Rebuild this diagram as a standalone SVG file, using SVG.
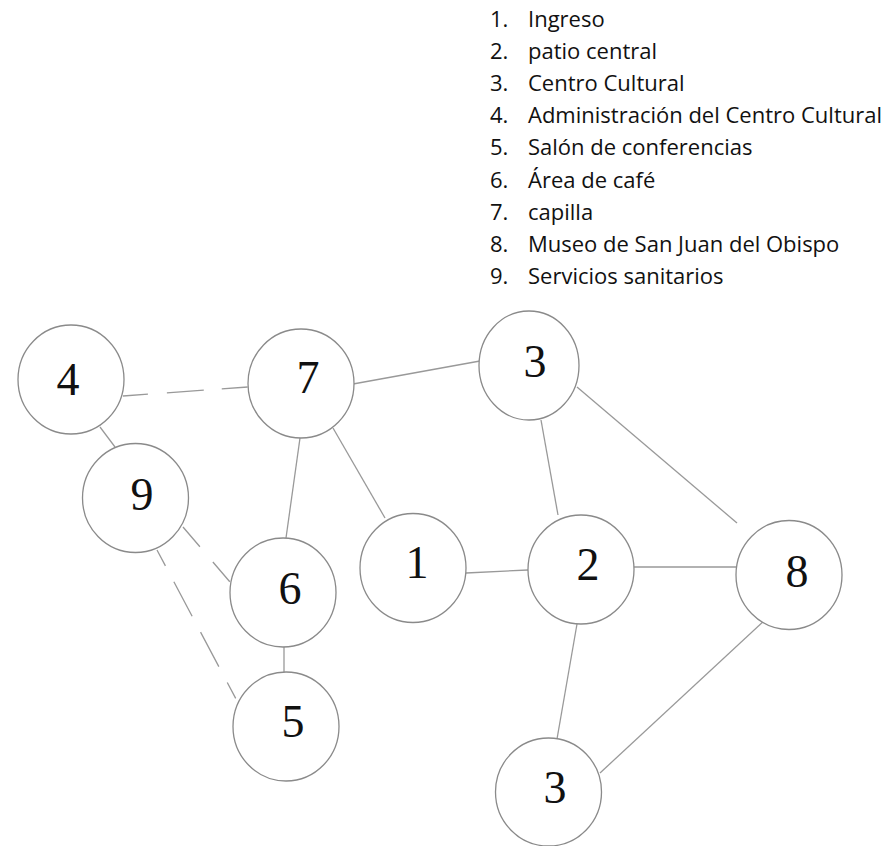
<svg xmlns="http://www.w3.org/2000/svg" width="889" height="846" viewBox="0 0 889 846">
<style>
.node ellipse{fill:#fff;stroke:#8a8a8a;stroke-width:1.3}
.node text{font-family:"Liberation Serif","Times New Roman",serif;font-size:46px;fill:#111;text-anchor:middle}
.edge{stroke:#999;stroke-width:1.3;fill:none}
.legend text{font-family:"Open Sans","Noto Sans",sans-serif;font-size:22px;fill:#111}
</style>
<rect width="889" height="846" fill="#fff"/>
<g id="legend" class="legend">
<text x="490" y="27">1.</text><text x="528" y="27">Ingreso</text>
<text x="490" y="59">2.</text><text x="528" y="59">patio central</text>
<text x="490" y="91">3.</text><text x="528" y="91">Centro Cultural</text>
<text x="490" y="123">4.</text><text x="528" y="123">Administración del Centro Cultural</text>
<text x="490" y="155">5.</text><text x="528" y="155">Salón de conferencias</text>
<text x="490" y="188">6.</text><text x="528" y="188">Área de café</text>
<text x="490" y="220">7.</text><text x="528" y="220">capilla</text>
<text x="490" y="252">8.</text><text x="528" y="252">Museo de San Juan del Obispo</text>
<text x="490" y="284">9.</text><text x="528" y="284">Servicios sanitarios</text>
</g>
<g id="connectors">
<line class="edge" x1="123" y1="396" x2="248" y2="387" stroke-dasharray="25 19 37 18 26"/>
<line class="edge" x1="100" y1="427" x2="115" y2="447"/>
<line class="edge" x1="353" y1="384" x2="480" y2="361"/>
<line class="edge" x1="300" y1="438" x2="286" y2="538"/>
<line class="edge" x1="333" y1="428" x2="385" y2="518"/>
<line class="edge" x1="541" y1="420" x2="558" y2="515"/>
<line class="edge" x1="577" y1="387" x2="737" y2="523"/>
<line class="edge" x1="466" y1="573" x2="528" y2="570"/>
<line class="edge" x1="634" y1="567" x2="736" y2="567"/>
<line class="edge" x1="577" y1="624" x2="557" y2="739"/>
<line class="edge" x1="600" y1="773" x2="766" y2="619"/>
<line class="edge" x1="284" y1="647" x2="284" y2="672"/>
<line class="edge" x1="183" y1="527" x2="230" y2="582" stroke-dasharray="26 20 26"/>
<line class="edge" x1="157" y1="550" x2="236" y2="699" stroke-dasharray="18 18 39 18 39 18 18"/>
</g>
<g id="node-4" class="node"><ellipse cx="71" cy="379.5" rx="53" ry="54.5"/><text x="68" y="395">4</text></g>
<g id="node-7" class="node"><ellipse cx="301" cy="383.5" rx="53" ry="54.5"/><text x="308" y="393">7</text></g>
<g id="node-3a" class="node"><ellipse cx="529" cy="365.5" rx="50" ry="54.5"/><text x="535" y="377">3</text></g>
<g id="node-9" class="node"><ellipse cx="135.5" cy="498" rx="53" ry="54.5"/><text x="142" y="510">9</text></g>
<g id="node-6" class="node"><ellipse cx="283" cy="592.5" rx="53" ry="54.5"/><text x="290" y="604">6</text></g>
<g id="node-1" class="node"><ellipse cx="413" cy="568" rx="53" ry="54.5"/><text x="417" y="578">1</text></g>
<g id="node-2" class="node"><ellipse cx="581" cy="569.5" rx="53" ry="54.5"/><text x="588" y="580">2</text></g>
<g id="node-8" class="node"><ellipse cx="789" cy="575" rx="53" ry="54.5"/><text x="797" y="587">8</text></g>
<g id="node-5" class="node"><ellipse cx="286" cy="726.5" rx="53" ry="54.5"/><text x="293" y="737">5</text></g>
<g id="node-3b" class="node"><ellipse cx="548.5" cy="792" rx="53" ry="54"/><text x="555" y="803">3</text></g>
</svg>
